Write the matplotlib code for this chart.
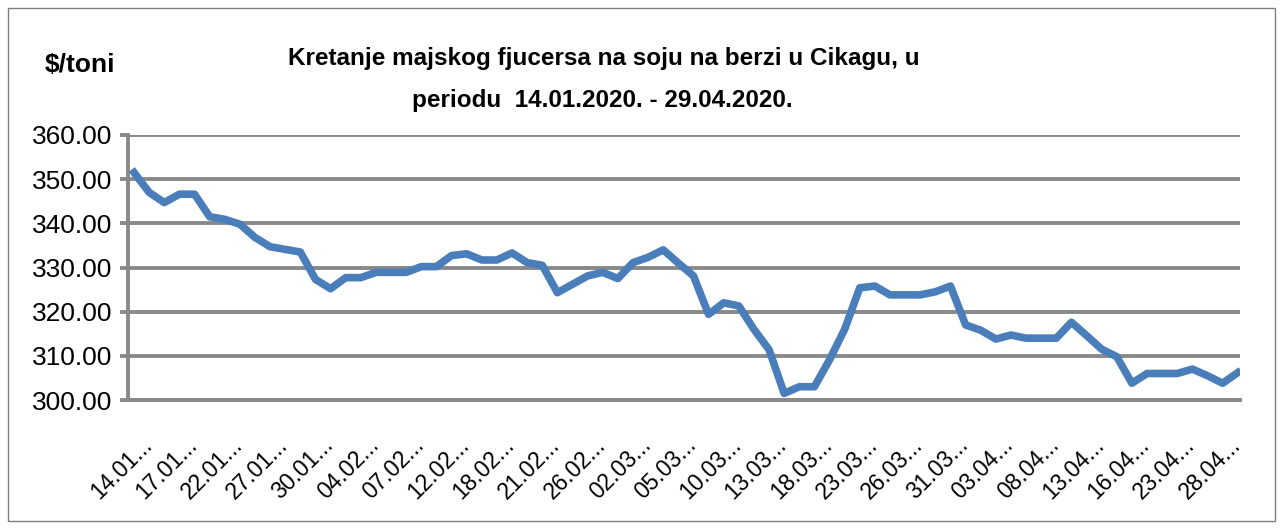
import matplotlib.pyplot as plt
import matplotlib.transforms as mtransforms
from matplotlib.patches import Rectangle

# soybean May futures, CBOT, $/t
prices = [
    351.5, 347.0, 344.7, 346.6, 346.6, 341.5, 340.9, 339.8, 336.8, 334.7,
    334.1, 333.5, 327.3, 325.2, 327.7, 327.7, 328.9, 328.9, 328.9, 330.2,
    330.2, 332.7, 333.1, 331.7, 331.7, 333.3, 331.1, 330.5, 324.3, 326.2,
    328.1, 328.9, 327.5, 331.1, 332.3, 334.0, 331.0, 328.1, 319.4, 322.0,
    321.3, 316.0, 311.4, 301.5, 303.0, 303.0, 309.1, 316.0, 325.4, 325.8,
    323.8, 323.8, 323.8, 324.5, 325.8, 317.0, 315.8, 313.8, 314.7, 314.0,
    314.0, 314.0, 317.6, 314.6, 311.5, 309.8, 303.8, 306.0, 306.0, 306.0,
    307.0, 305.5, 303.8, 306.2,
]

# every third date is labelled (Excel truncates them)
tick_dates = [
    "14.01", "17.01", "22.01", "27.01", "30.01", "04.02", "07.02", "12.02",
    "18.02", "21.02", "26.02", "02.03", "05.03", "10.03", "13.03", "18.03",
    "23.03", "26.03", "31.03", "03.04", "08.04", "13.04", "16.04", "23.04",
    "28.04",
]
y_ticks = [300, 310, 320, 330, 340, 350, 360]

title_1 = "Kretanje majskog fjucersa na soju na berzi u Cikagu, u"
title_2 = "periodu  14.01.2020. - 29.04.2020."
unit = "$/toni"

plt.rcParams['font.family'] = ['Liberation Sans', 'DejaVu Sans']

grid_col = '#898989'
line_col = '#4a7ebb'

fig = plt.figure(figsize=(12.83, 5.29), dpi=100)
ax = fig.add_axes([128 / 1283, 1 - 400 / 529, (1240 - 128) / 1283, (400 - 135) / 529])

x = list(range(len(prices)))
ax.plot(x, prices, color=line_col, linewidth=5.5, solid_joinstyle='round', zorder=3)

ax.set_ylim(300, 360)
ax.set_xlim(-0.4, len(prices) - 1 + 0.15)
ax.set_yticks(y_ticks)
ax.set_yticklabels([f"{v:.2f}" for v in y_ticks], fontsize=19)
ax.yaxis.grid(True, color=grid_col, linewidth=2.8, zorder=1)
ax.tick_params(axis='y', length=6, width=2.8, color=grid_col, pad=5)

ax.set_xticks(x[::3])
ax.set_xticklabels([d + "..." for d in tick_dates], fontsize=16.5,
                   rotation=45, ha='right', rotation_mode='anchor')
ax.tick_params(axis='x', length=0, pad=24)
offset = mtransforms.ScaledTranslation(6 / 100, 0, fig.dpi_scale_trans)
for lab in ax.get_xticklabels():
    lab.set_transform(lab.get_transform() + offset)

for side in ['top', 'right']:
    ax.spines[side].set_visible(False)
ax.spines['left'].set_color(grid_col)
ax.spines['left'].set_linewidth(2.8)
ax.spines['bottom'].set_color(grid_col)
ax.spines['bottom'].set_linewidth(2.8)

fig.text(604 / 1283, 1 - 58 / 529, title_1, ha='center', va='center',
         fontsize=17.5, fontweight='bold')
fig.text(602 / 1283, 1 - 101 / 529, title_2, ha='center', va='center',
         fontsize=17.5, fontweight='bold')
fig.text(45 / 1283, 1 - 65 / 529, unit, ha='left', va='center',
         fontsize=19, fontweight='bold')

fig.patches.append(Rectangle((8 / 1283, 8 / 529), 1267 / 1283, 513 / 529,
                             transform=fig.transFigure, fill=False,
                             edgecolor='#7f7f7f', linewidth=1))

fig.savefig("out.png", dpi=100)
